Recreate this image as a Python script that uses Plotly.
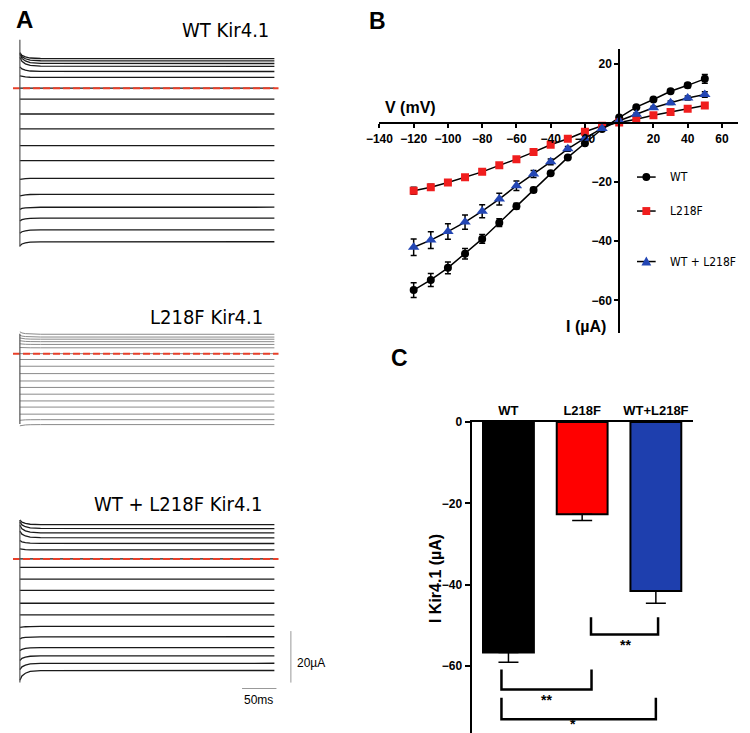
import plotly.graph_objects as go

W, H = 750, 733


def px(x):
    return x / W


def py(y):
    return 1 - y / H


FONT = "Liberation Sans, Arial, sans-serif"
NARROW = "Liberation Sans Narrow, Arial Narrow, DejaVu Sans Condensed, Liberation Sans, sans-serif"

# ---- panel A: current sweeps (steady level and start transient, µA) ----
SWEEP_T = [0, 3, 8, 15, 30, 370]
SWEEP_DECAY = [1.0, 0.55, 0.28, 0.1, 0.02, 0.0]

WT_LEVELS = [11.5, 10.6, 9.6, 8.5, 6.5, 4.2, 0.0, -4.2, -10.0, -15.8, -22.3,
             -28.1, -35.0, -41.2, -46.2, -50.4, -55.0, -59.6]
WT_START = [2.3, 3.0, 3.6, 3.5, 1.8, 0.6, 0, 0, 0, 0, 0, 0,
            -0.4, -0.6, -0.8, -1.1, -1.3, -1.6]

MUT_LEVELS = [6.3, 5.4, 4.7, 3.9, 3.0, 1.9, 0.0, -1.9, -4.1, -6.5, -8.9,
              -11.0, -13.2, -15.4, -17.4, -19.7, -21.5, -23.1]
MUT_START = [0.8, 0.6, 0.4, 0.3, 0.2, 0.1, 0, 0, 0, 0, 0, 0, 0, 0, 0, 0, -0.2, -0.4]

MIX_LEVELS = [13.3, 11.8, 10.1, 8.2, 6.0, 3.5, 0.0, -3.3, -7.8, -12.2, -17.2,
              -21.7, -26.2, -30.2, -34.4, -37.6, -40.5, -43.3]
MIX_START = [1.8, 2.6, 3.0, 2.6, 1.2, 0.4, 0, 0, 0, 0, 0, 0,
             -0.4, -0.8, -1.2, -1.8, -2.5, -3.8]

# ---- panel B: I-V relation ----
VOLT = [-120, -110, -100, -90, -80, -70, -60, -50, -40, -30, -20, -10,
        0, 10, 20, 30, 40, 50]
IV_WT = [-56.5, -53.1, -49.0, -44.2, -39.2, -33.7, -28.1, -22.6, -17.0, -11.6,
         -6.8, -2.0, 1.9, 5.4, 8.0, 10.8, 12.8, 15.0]
IV_WT_ERR = [2.5, 2.2, 2.0, 1.8, 1.5, 1.3, 1.0, 0.8, 0.6, 0.5, 0.4, 0.3,
             0.3, 0.4, 0.5, 0.6, 0.8, 1.5]
IV_MUT = [-22.9, -21.7, -20.1, -18.3, -16.5, -14.3, -12.2, -9.8, -7.3, -5.3,
          -2.9, -0.9, 0.2, 1.3, 2.7, 3.8, 4.9, 6.0]
IV_MUT_ERR = [1.2, 1.0, 0.9, 0.8, 0.7, 0.6, 0.5, 0.4, 0.4, 0.3, 0.3, 0.2,
              0.2, 0.2, 0.3, 0.3, 0.4, 0.5]
IV_MIX = [-42.0, -39.6, -36.7, -33.5, -29.8, -25.7, -21.2, -17.2, -13.1, -8.7,
          -5.1, -1.8, 0.8, 3.0, 5.2, 6.9, 8.5, 9.7]
IV_MIX_ERR = [2.8, 2.8, 2.6, 2.4, 2.2, 2.0, 1.6, 1.2, 1.0, 0.8, 0.6, 0.4,
              0.3, 0.4, 0.5, 0.6, 0.7, 0.9]

# ---- panel C: current at -120 mV ----
GROUPS = ["WT", "L218F", "WT+L218F"]
BAR_MEAN = [-56.7, -22.7, -41.6]
BAR_SEM = [2.4, 1.5, 3.0]
BAR_COLORS = ["#000000", "#FF0000", "#1E3FAE"]

RED = "#F01E1E"
BLUE = "#2346B4"

fig = go.Figure()

# ---------------- panel A ----------------
A_ROWS = [
    ("y", WT_LEVELS, WT_START, "#1a1a1a", 1.3),
    ("y2", MUT_LEVELS, MUT_START, "#8a8a8a", 1.0),
    ("y3", MIX_LEVELS, MIX_START, "#1a1a1a", 1.3),
]
for yref, levels, starts, col, lw in A_ROWS:
    for lev, st in zip(levels, starts):
        fig.add_trace(go.Scatter(
            x=SWEEP_T, y=[lev + st * d for d in SWEEP_DECAY],
            mode="lines", line=dict(color=col, width=lw),
            xaxis="x", yaxis=yref, showlegend=False, hoverinfo="skip"))
    # zero-current reference
    fig.add_trace(go.Scatter(
        x=[-10, 376], y=[0, 0], mode="lines",
        line=dict(color="#E8402A", width=2, dash="7px,3px"),
        xaxis="x", yaxis=yref, showlegend=False, hoverinfo="skip"))

# left baseline of each set of sweeps
for top, bot in [(33, 242), (330, 421), (518, 682)]:
    fig.add_shape(type="line", xref="paper", yref="paper",
                  x0=px(7), x1=px(7), y0=py(top), y1=py(bot),
                  line=dict(color="#555", width=1.2))

# scale bars (20 µA, 50 ms)
fig.add_shape(type="line", xref="x", yref="y3", x0=394, x1=394, y0=-28, y1=-48,
              line=dict(color="#999", width=1))
fig.add_shape(type="line", xref="x", yref="y3", x0=323, x1=373, y0=-50.3, y1=-50.3,
              line=dict(color="#999", width=1))

# ---------------- panel B ----------------
IV_SETS = [
    ("WT", IV_WT, IV_WT_ERR, "circle", "#000000", 8),
    ("L218F", IV_MUT, IV_MUT_ERR, "square", RED, 8),
    ("WT + L218F", IV_MIX, IV_MIX_ERR, "triangle-up", BLUE, 10),
]
for name, vals, errs, sym, col, size in IV_SETS:
    fig.add_trace(go.Scatter(
        x=VOLT, y=vals, mode="lines+markers", name=name,
        line=dict(color="#000", width=1.5),
        marker=dict(symbol=sym, color=col, size=size),
        error_y=dict(type="data", array=errs, color="#000", thickness=1.5, width=3),
        xaxis="x2", yaxis="y4", showlegend=False))

# hand-drawn legend of panel B
LEG_Y = [171.7, 206, 257]
for (name, _, _, sym, col, size), ly in zip(IV_SETS, LEG_Y):
    fig.add_shape(type="line", xref="paper", yref="paper",
                  x0=px(635), x1=px(654), y0=py(ly), y1=py(ly),
                  line=dict(color="#000", width=1.5))
    cx, r = 644.5, 4
    if sym == "circle":
        fig.add_shape(type="circle", xref="paper", yref="paper",
                      x0=px(cx - r), x1=px(cx + r), y0=py(ly + r), y1=py(ly - r),
                      fillcolor=col, line=dict(width=0))
    elif sym == "square":
        fig.add_shape(type="rect", xref="paper", yref="paper",
                      x0=px(cx - r), x1=px(cx + r), y0=py(ly + r), y1=py(ly - r),
                      fillcolor=col, line=dict(width=0))
    else:
        path = "M {} {} L {} {} L {} {} Z".format(
            px(cx - 5), py(ly + 4), px(cx + 5), py(ly + 4), px(cx), py(ly - 5))
        fig.add_shape(type="path", xref="paper", yref="paper", path=path,
                      fillcolor=col, line=dict(width=0))
    fig.add_annotation(x=px(667), y=py(ly), xref="paper", yref="paper",
                       text=name, showarrow=False, xanchor="left", yanchor="middle",
                       font=dict(family=NARROW, size=12, color="#000"))

# ---------------- panel C ----------------
fig.add_trace(go.Bar(
    x=[0, 1, 2], y=BAR_MEAN, width=0.69,
    marker=dict(color=BAR_COLORS, line=dict(color="#000", width=2)),
    error_y=dict(type="data", symmetric=False, array=[0, 0, 0], arrayminus=BAR_SEM,
                 color="#000", thickness=1.5, width=10),
    xaxis="x3", yaxis="y5", showlegend=False))

# significance brackets: (x left, x right, y top of legs, y bar, stars, star x, star y)
BRACKETS = [
    (1.12, 2.03, -48.0, -52.3, "**", 1.59, -54.8),
    (-0.095, 1.127, -60.9, -65.8, "**", 0.52, -68.4),
    (-0.095, 2.0, -67.8, -73.1, "*", 0.87, -74.2),
]
for xl, xr, ytop, ybar, stars, sx, sy in BRACKETS:
    path = "M {} {} L {} {} L {} {} L {} {}".format(xl, ytop, xl, ybar, xr, ybar, xr, ytop)
    fig.add_shape(type="path", xref="x3", yref="y5", path=path,
                  line=dict(color="#000", width=2.5))
    fig.add_annotation(x=sx, y=sy, xref="x3", yref="y5", text=stars,
                       showarrow=False, yanchor="middle",
                       font=dict(family=FONT, size=14, color="#000", weight="bold"))

# ---------------- texts ----------------
TEXTS = [
    ("A", 1, 13, "left", FONT, 24, "bold"),
    ("B", 360, 14, "left", FONT, 23, "bold"),
    ("C", 383, 354, "left", FONT, 23, "bold"),
    ("WT Kir4.1", 263, 23, "right", NARROW, 20, "normal"),
    ("L218F Kir4.1", 256, 313, "right", NARROW, 20, "normal"),
    ("WT + L218F Kir4.1", 256, 502, "right", NARROW, 20, "normal"),
    ("20µA", 287, 662, "left", FONT, 12, "normal"),
    ("50ms", 250, 700, "center", FONT, 12, "normal"),
    ("V (mV)", 377, 101, "left", FONT, 16, "bold"),
    ("I (µA)", 561, 323, "left", FONT, 16, "bold"),
]
for text, x, y, anchor, fam, size, weight in TEXTS:
    fig.add_annotation(x=px(x), y=py(y), xref="paper", yref="paper", text=text,
                       showarrow=False, xanchor=anchor, yanchor="middle",
                       font=dict(family=fam, size=size, color="#000", weight=weight))

fig.add_annotation(x=px(430), y=py(577), xref="paper", yref="paper",
                   text="I Kir4.1 (µA)", textangle=-90, showarrow=False,
                   xanchor="center", yanchor="middle",
                   font=dict(family=FONT, size=16, color="#000", weight="bold"))

hidden = dict(visible=False, showgrid=False, zeroline=False)
tickfont = dict(family=FONT, size=12, color="#000", weight="bold")

fig.update_layout(
    width=W, height=H,
    margin=dict(l=0, r=0, t=0, b=0),
    paper_bgcolor="white", plot_bgcolor="white",
    showlegend=False,
    # panel A (one time axis, three current axes)
    xaxis=dict(domain=[0, px(290)], range=[-10, 404.3], anchor="y", **hidden),
    yaxis=dict(domain=[py(250), py(30)], range=[-64.6, 20.0], anchor="x", **hidden),
    yaxis2=dict(domain=[py(428), py(325)], range=[-25.16, 8.06], anchor="x", **hidden),
    yaxis3=dict(domain=[py(710), py(512)], range=[-58.73, 17.42], anchor="x", **hidden),
    # panel B
    xaxis2=dict(domain=[px(372), px(738)], range=[-140.5, 69.5], anchor="free",
                position=py(117.3), showline=True, linecolor="#000", linewidth=2,
                ticks="outside", ticklen=4, tickwidth=2, tickcolor="#000",
                tickvals=[-140, -120, -100, -80, -60, -40, -20, 20, 40, 60],
                tickfont=tickfont, showgrid=False, zeroline=False),
    yaxis4=dict(domain=[py(329), py(42.7)], range=[-71, 25], anchor="free",
                position=px(617), showline=True, linecolor="#000", linewidth=2,
                ticks="outside", ticklen=4, tickwidth=2, tickcolor="#000",
                tickvals=[20, -20, -40, -60],
                tickfont=tickfont, showgrid=False, zeroline=False),
    # panel C
    xaxis3=dict(domain=[px(466.7), px(691.7)], range=[-0.5, 2.5], anchor="y5",
                side="top", showline=True, linecolor="#000", linewidth=2,
                ticks="", tickvals=[0, 1, 2], ticktext=GROUPS,
                tickfont=dict(family=FONT, size=13, color="#000", weight="bold"),
                showgrid=False, zeroline=False),
    yaxis5=dict(domain=[py(733), py(419)], range=[-76.5, 0], anchor="x3",
                showline=True, linecolor="#000", linewidth=2,
                ticks="outside", ticklen=5, tickwidth=2, tickcolor="#000",
                tickvals=[0, -20, -40, -60], tickfont=tickfont,
                showgrid=False, zeroline=False),
)

# the page's default body margin would shift the whole figure
fig.write_html("out.html", config={"displayModeBar": False},
               post_script="document.body.style.margin = '0';")
